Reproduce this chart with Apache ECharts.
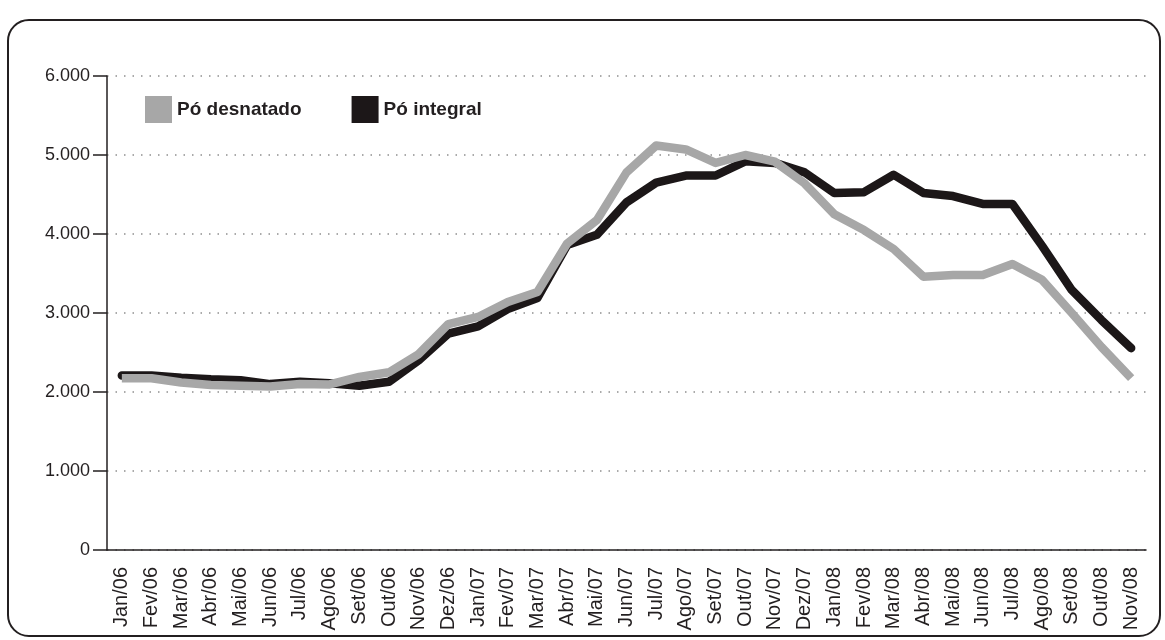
<!DOCTYPE html>
<html>
<head>
<meta charset="utf-8">
<script src="https://cdn.jsdelivr.net/npm/echarts@6/dist/echarts.min.js"></script>
<style>
html,body{margin:0;padding:0;background:#fff;}
#frame{position:absolute;left:7px;top:19px;width:1150px;height:614px;border:2px solid #231f20;border-radius:22px;}
#chart{position:absolute;left:0;top:0;width:1165px;height:640px;}
</style>
</head>
<body>
<div id="frame"></div>
<div id="chart"></div>
<script>
const categories = ["Jan/06","Fev/06","Mar/06","Abr/06","Mai/06","Jun/06","Jul/06","Ago/06","Set/06","Out/06","Nov/06","Dez/06",
"Jan/07","Fev/07","Mar/07","Abr/07","Mai/07","Jun/07","Jul/07","Ago/07","Set/07","Out/07","Nov/07","Dez/07",
"Jan/08","Fev/08","Mar/08","Abr/08","Mai/08","Jun/08","Jul/08","Ago/08","Set/08","Out/08","Nov/08"];
const poDesnatado = [2175,2175,2120,2090,2080,2070,2100,2095,2190,2250,2480,2860,2950,3140,3265,3880,4175,4780,5120,5070,4900,5000,4915,4640,4250,4050,3810,3460,3480,3480,3620,3420,3000,2570,2175];
const poIntegral = [2210,2210,2180,2160,2150,2100,2130,2110,2080,2130,2400,2740,2830,3050,3190,3860,3990,4400,4650,4740,4740,4920,4900,4780,4520,4530,4750,4520,4480,4380,4380,3850,3290,2910,2555];
const yTicks = [0,1000,2000,3000,4000,5000,6000];

const chart = echarts.init(document.getElementById('chart'), null, {renderer:'canvas'});
const fmt = v => v === 0 ? '0' : String(v).replace(/\B(?=(\d{3})+(?!\d))/g, '.');
const FONT = 'Liberation Sans, Arial, sans-serif';
chart.setOption({
  animation:false,
  backgroundColor:'transparent',
  textStyle:{fontFamily:FONT},
  legend:{
    data:['Pó desnatado','Pó integral'],
    left:140, top:91,
    itemWidth:27, itemHeight:27, itemGap:50,
    icon:'rect',
    textStyle:{fontSize:19, fontWeight:'bold', color:'#231f20', fontFamily:FONT}
  },
  grid:{left:107, right:19, top:76, bottom:90, containLabel:false},
  xAxis:{
    type:'category',
    data:categories,
    boundaryGap:true,
    axisLine:{lineStyle:{color:'#231f20', width:1.5}},
    axisTick:{length:13, interval:0, lineStyle:{color:'#231f20', width:1.5}},
    axisLabel:{interval:0, rotate:90, fontSize:20, color:'#231f20', margin:17, fontFamily:FONT},
    splitLine:{show:false}
  },
  yAxis:{
    type:'value',
    min:0, max:6000, interval:1000,
    axisLine:{show:true, lineStyle:{color:'#231f20', width:1.5}},
    axisTick:{show:true, length:14, lineStyle:{color:'#231f20', width:1.5}},
    axisLabel:{fontSize:18, color:'#231f20', margin:17, formatter:fmt, fontFamily:FONT},
    splitLine:{show:true, lineStyle:{color:'#8f8f8f', width:1.5, type:[1.5,7]}}
  },
  series:[
    {name:'Pó integral', type:'line', data:poIntegral, showSymbol:false, z:2,
     itemStyle:{color:'#1c1718'},
     lineStyle:{color:'#1c1718', width:8.5, cap:'round', join:'round'}},
    {name:'Pó desnatado', type:'line', data:poDesnatado, showSymbol:false, z:3,
     itemStyle:{color:'#a7a7a7'},
     lineStyle:{color:'#a7a7a7', width:8.5, cap:'butt', join:'round'}}
  ]
});
</script>
</body>
</html>
